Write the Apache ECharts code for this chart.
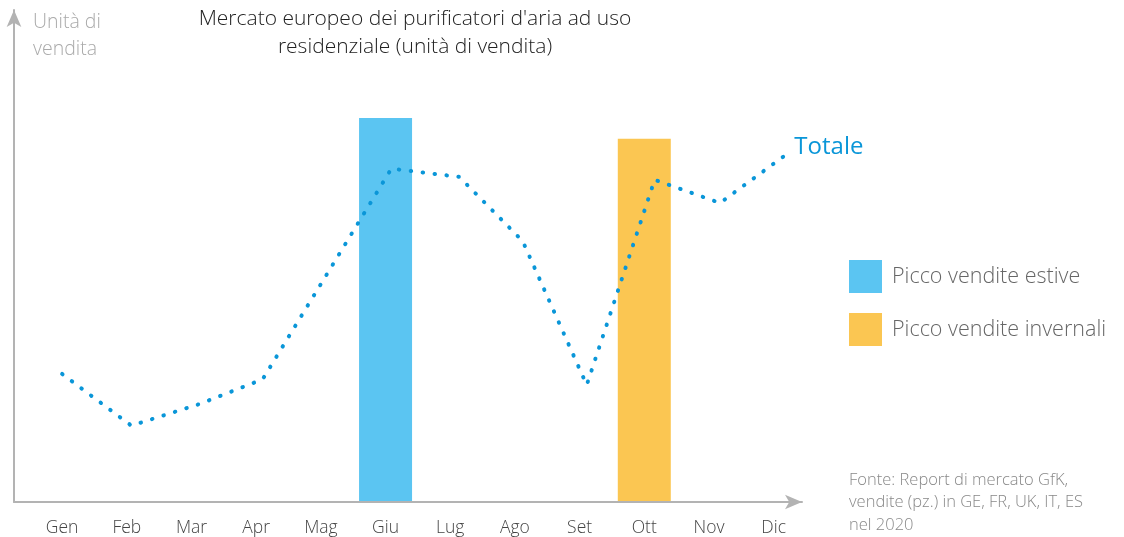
<!DOCTYPE html>
<html><head><meta charset="utf-8">
<script src="https://cdn.jsdelivr.net/npm/echarts@6/dist/echarts.min.js"></script>
<style>html,body{margin:0;padding:0;background:#fff}#c{width:1124px;height:537px}</style>
</head><body><div id="c"></div>
<script>
const months = ['Gen','Feb','Mar','Apr','Mag','Giu','Lug','Ago','Set','Ott','Nov','Dic'];
// Totale line: vertex positions (in month units) and values
const lineMonthPos = [0, 1.07, 2.13, 3.10, 5.09, 6.14, 7.12, 8.11, 9.16, 10.17, 11.15];
const lineValues   = [26.3, 15.6, 20.1, 25.2, 68.8, 67.1, 53.8, 24.0, 66.5, 61.7, 71.3];
// Peak bars
const summerPeak = [null, null, null, null, null, 79.3, null, null, null, null, null, null];
const winterPeak = [null, null, null, null, null, null, null, null, null, 75.0, null, null];

const font = "'Open Sans', 'Noto Sans', sans-serif";
const chart = echarts.init(document.getElementById('c'), null, {renderer: 'canvas'});
const gTop = 10, gH = 492, yMax = 101.65;
chart.setOption({
  animation: false,
  textStyle: {fontFamily: font},
  title: [
    {text: "Mercato europeo dei purificatori d'aria ad uso\nresidenziale (unità di vendita)",
     left: 415, top: 5, padding: 0, textAlign: 'center',
     textStyle: {fontFamily: font, fontSize: 21, fontWeight: 300, color: '#222', lineHeight: 28}},
    {text: 'Fonte: Report di mercato GfK,\nvendite (pz.) in GE, FR, UK, IT, ES\nnel 2020',
     left: 849, top: 469, padding: 0,
     textStyle: {fontFamily: font, fontSize: 16.5, fontWeight: 300, color: '#888', lineHeight: 22.5}}
  ],
  legend: {
    orient: 'vertical', left: 849, top: 260, padding: 0, itemWidth: 33, itemHeight: 33, itemGap: 20,
    icon: 'rect',
    data: ['Picco vendite estive', 'Picco vendite invernali'],
    textStyle: {fontFamily: font, fontSize: 21.5, fontWeight: 300, color: '#666', padding: [0,0,0,5]}
  },
  grid: [
    {left: 14, top: gTop, width: 788, height: gH},
    {left: 29.8, top: gTop, width: 776.2, height: gH}
  ],
  xAxis: [
    {gridIndex: 0, type: 'value', min: 0, max: 1,
     axisLine: {show: true, lineStyle: {color: '#b3b3b3', width: 2}, symbol: ['none','arrow'], symbolSize: [11,17]},
     axisTick: {show: false}, axisLabel: {show: false}, splitLine: {show: false}},
    {gridIndex: 1, type: 'category', data: months, boundaryGap: true,
     axisLine: {show: false}, axisTick: {show: false}, splitLine: {show: false},
     axisLabel: {fontFamily: font, fontSize: 17.5, fontWeight: 300, color: '#444', margin: 18}},
    {gridIndex: 1, type: 'value', min: -0.5, max: 11.5, show: false}
  ],
  yAxis: [
    {gridIndex: 0, type: 'value', min: 0, max: yMax,
     name: 'Unità di\nvendita', nameLocation: 'end', nameGap: 1,
     nameTextStyle: {fontFamily: font, fontSize: 19.5, fontWeight: 300, color: '#aaa', align: 'left', verticalAlign: 'top', lineHeight: 27, padding: [0,0,0,19]},
     axisLine: {show: true, lineStyle: {color: '#b3b3b3', width: 2}, symbol: ['none','arrow'], symbolSize: [11,17]},
     axisTick: {show: false}, axisLabel: {show: false}, splitLine: {show: false}},
    {gridIndex: 1, type: 'value', min: 0, max: yMax, show: false}
  ],
  series: [
    {name: 'Picco vendite estive', type: 'bar', xAxisIndex: 1, yAxisIndex: 1, data: summerPeak,
     barWidth: 53, barGap: '-100%', itemStyle: {color: '#5bc5f2'}},
    {name: 'Picco vendite invernali', type: 'bar', xAxisIndex: 1, yAxisIndex: 1, data: winterPeak,
     barWidth: 53, barGap: '-100%', itemStyle: {color: '#fbc652'}},
    {name: 'Totale', type: 'line', xAxisIndex: 2, yAxisIndex: 1,
     data: lineMonthPos.map((m, i) => [m, lineValues[i]]),
     showSymbol: false, symbol: 'none', z: 5,
     lineStyle: {color: '#0a96d8', width: 4, type: [0.5, 11.5], cap: 'round', join: 'round'},
     endLabel: {show: true, formatter: 'Totale', offset: [3, -9], color: '#0a96d8',
       fontFamily: font, fontSize: 24, fontWeight: 400}}
  ]
});
</script></body></html>
